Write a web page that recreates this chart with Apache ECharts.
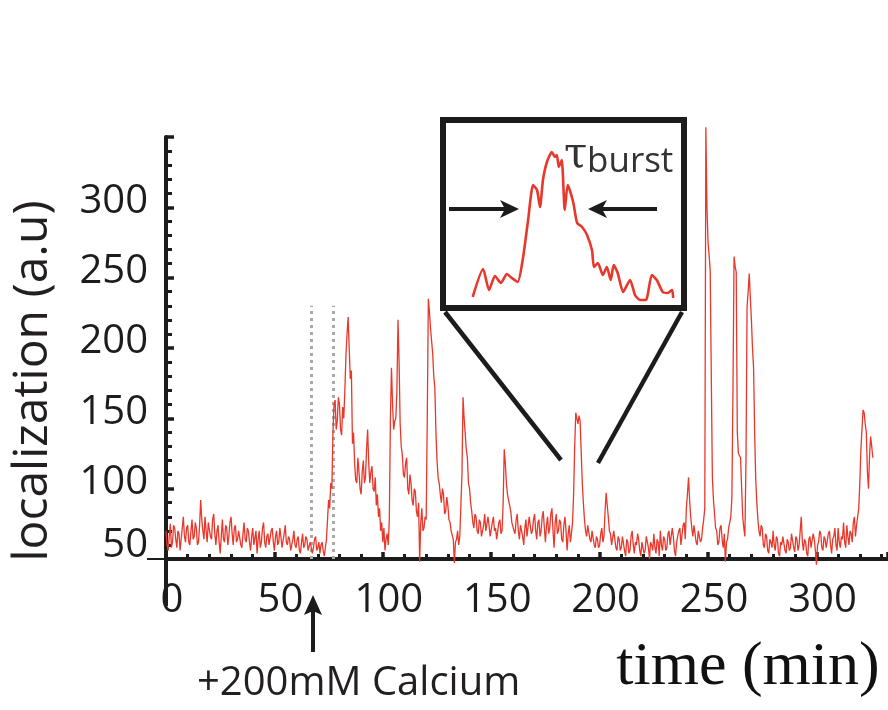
<!DOCTYPE html>
<html>
<head>
<meta charset="utf-8">
<script src="https://cdn.jsdelivr.net/npm/echarts@6/dist/echarts.min.js"></script>
<style>
  html, body { margin: 0; padding: 0; background: #ffffff; }
  #chart { width: 888px; height: 710px; }
</style>
</head>
<body>
<div id="chart"></div>
<script>
// Localization trace, one sample every half minute starting at t = 0 min
const sampleStepMin = 0.5;
const localization = [
  70, 60, 56, 66, 75, 58, 62, 74, 72, 64,
  58, 70, 68, 56, 64, 72, 80, 66, 62, 72,
  74, 62, 60, 70, 78, 64, 66, 76, 72, 60,
  62, 74, 92, 78, 70, 64, 80, 70, 62, 76,
  76, 66, 64, 78, 82, 68, 60, 70, 74, 62,
  54, 66, 78, 64, 62, 74, 72, 60, 66, 76,
  80, 68, 60, 72, 74, 62, 64, 70, 70, 60,
  58, 68, 76, 64, 62, 72, 70, 62, 56, 66,
  72, 60, 60, 70, 54, 64, 70, 58, 62, 72,
  76, 62, 58, 66, 68, 60, 60, 70, 72, 62,
  56, 66, 70, 60, 62, 72, 66, 58, 58, 68,
  74, 62, 60, 66, 64, 56, 56, 64, 70, 60,
  58, 64, 66, 56, 54, 62, 68, 58, 60, 66,
  64, 56, 55, 62, 62, 54, 58, 64, 66, 56,
  58, 62, 54, 60, 62, 56, 52, 58, 64, 78,
  92, 86, 104, 100, 140, 160, 163, 142, 148, 165,
  160, 142, 138, 158, 150, 170, 195, 210, 222, 200,
  178, 184, 132, 140, 118, 106, 104, 122, 112, 100,
  96, 112, 120, 104, 108, 128, 142, 118, 104, 112,
  116, 100, 98, 108, 88, 96, 80, 86, 70, 76,
  62, 72, 56, 64, 68, 60, 78, 150, 186, 160,
  142, 148, 150, 170, 220, 190, 146, 130, 124, 110,
  108, 118, 122, 100, 96, 110, 104, 92, 88, 100,
  98, 84, 80, 90, 48, 76, 86, 70, 72, 80,
  78, 150, 235, 226, 214, 205, 196, 180, 172, 140,
  120, 108, 104, 96, 90, 100, 96, 82, 84, 94,
  88, 78, 76, 70, 70, 64, 47, 62, 64, 70,
  60, 66, 66, 110, 165, 150, 150, 128, 122, 104,
  100, 90, 84, 76, 72, 82, 80, 70, 68, 78,
  76, 66, 66, 74, 82, 70, 70, 80, 74, 66,
  66, 76, 80, 70, 72, 64, 64, 76, 78, 68,
  70, 90, 128, 118, 104, 96, 96, 88, 84, 76,
  76, 70, 68, 78, 82, 70, 64, 74, 74, 66,
  60, 72, 78, 66, 66, 80, 80, 68, 70, 78,
  82, 70, 64, 76, 78, 66, 70, 80, 84, 72,
  62, 74, 80, 68, 72, 82, 86, 70, 58, 76,
  82, 68, 70, 78, 76, 64, 62, 74, 80, 70,
  56, 68, 74, 62, 68, 76, 96, 130, 154, 150,
  146, 152, 148, 126, 104, 90, 78, 70, 66, 74,
  74, 64, 62, 70, 70, 60, 58, 66, 64, 58,
  60, 68, 72, 62, 66, 84, 97, 88, 80, 70,
  68, 60, 60, 70, 70, 58, 56, 66, 64, 56,
  58, 66, 66, 56, 52, 64, 62, 54, 56, 66,
  70, 60, 54, 62, 60, 68, 64, 56, 52, 62,
  62, 54, 56, 66, 66, 58, 50, 62, 60, 56,
  68, 58, 54, 64, 62, 52, 70, 60, 56, 66,
  64, 56, 58, 68, 70, 60, 60, 72, 66, 56,
  52, 62, 62, 70, 72, 60, 60, 74, 76, 64,
  86, 96, 108, 92, 80, 72, 66, 74, 74, 62,
  60, 70, 70, 62, 64, 72, 78, 86, 357, 300,
  275, 266, 255, 180, 108, 92, 82, 72, 70, 60,
  62, 72, 74, 64, 58, 68, 48, 62, 64, 72,
  72, 80, 94, 170, 265, 258, 254, 140, 125, 124,
  122, 100, 80, 72, 66, 120, 229, 240, 253, 236,
  220, 200, 186, 140, 106, 90, 78, 70, 66, 74,
  72, 60, 58, 68, 66, 56, 54, 64, 62, 58,
  70, 60, 56, 66, 64, 54, 52, 62, 60, 66,
  66, 56, 54, 64, 62, 56, 58, 68, 68, 58,
  55, 66, 64, 56, 60, 70, 80, 62, 56, 64,
  62, 54, 52, 64, 66, 58, 58, 68, 64, 56,
  46, 60, 62, 70, 68, 58, 56, 66, 64, 58,
  58, 68, 70, 60, 54, 64, 66, 72, 60, 56,
  72, 62, 58, 66, 64, 76, 62, 58, 74, 66,
  60, 70, 68, 62, 76, 80, 66, 74, 74, 86,
  104, 128, 142, 156, 154, 146, 140, 112, 100, 124,
  137, 130, 122
];

// Axis ticks
const yTickLabels = [50, 100, 150, 200, 250, 300];
const xTickLabels = [0, 50, 100, 150, 200, 250, 300];

// Calcium addition window (min) and top of its dotted guides (a.u.)
const calciumWindow = [67, 77];
const calciumGuideTop = 230;

// Zoomed single burst shown in the inset (arbitrary time units, a.u.)
const burstTime = [
  0.48, 0.69, 0.81, 0.93, 1.05, 1.17, 1.27, 1.39, 1.49, 1.60,
  1.70, 1.78, 1.84, 1.90, 1.98, 2.08, 2.14, 2.18, 2.22, 2.28,
  2.34, 2.40, 2.51, 2.59, 2.69, 2.79, 2.89, 2.93, 3.01, 3.11,
  3.19, 3.27, 3.33, 3.41, 3.52, 3.66, 3.76, 3.86, 3.98, 4.10,
  4.20, 4.32, 4.42, 4.51, 4.53
];
const burstValue = [
  11, 39, 18, 32, 25, 34, 30, 26, 48, 88,
  123, 118, 101, 128, 146, 156, 151, 153, 141, 148,
  98, 123, 106, 85, 81, 73, 58, 41, 45, 33,
  41, 28, 43, 35, 16, 28, 13, 8, 8, 33,
  28, 16, 15, 18, 10
];
const burstTicks = [2, 3, 4];

const INK = '#1e1b1c';
const RED = '#e8382c';
const LABEL_FONT = "'Open Sans', sans-serif";

const chart = echarts.init(document.getElementById('chart'), null, { renderer: 'canvas' });

const tracePoints = localization.map((v, i) => [i * sampleStepMin, v]);
const burstPoints = burstTime.map((t, i) => [t, burstValue[i]]);

const option = {
  backgroundColor: '#ffffff',
  animation: false,
  grid: [
    { left: 166, top: 137, right: 0, bottom: 151, containLabel: false },
    { left: 443, top: 120, width: 241, height: 188, show: true,
      backgroundColor: '#ffffff', borderColor: INK, borderWidth: 6, z: 10 }
  ],
  xAxis: [
    {
      gridIndex: 0, type: 'value', min: 0, max: 333, interval: 50,
      axisLine: { show: true, lineStyle: { color: INK, width: 4 } },
      axisTick: { show: true, inside: true, length: 7, lineStyle: { color: INK, width: 3.5 } },
      minorTick: { show: true, splitNumber: 5, length: 5, lineStyle: { color: INK, width: 3 } },
      splitLine: { show: false },
      axisLabel: {
        show: true, margin: 22,
        customValues: xTickLabels,
        color: INK, fontFamily: LABEL_FONT,
        fontSize: 40, padding: [0, 0, 0, 12]
      }
    },
    {
      gridIndex: 1, type: 'value', min: -0.12, max: 4.75,
      axisLine: { show: false },
      axisTick: { show: true, inside: true, length: 5, customValues: burstTicks,
        lineStyle: { color: INK, width: 3 } },
      axisLabel: { show: false },
      splitLine: { show: false }
    }
  ],
  yAxis: [
    {
      gridIndex: 0, type: 'value', min: 50, max: 350, interval: 50,
      axisLine: { show: true, lineStyle: { color: INK, width: 4 } },
      axisTick: { show: true, inside: true, length: 8, lineStyle: { color: INK, width: 3.5 } },
      minorTick: { show: true, splitNumber: 5, length: 6, lineStyle: { color: INK, width: 3 } },
      splitLine: { show: false },
      axisLabel: {
        show: true, margin: 18,
        customValues: yTickLabels,
        color: INK, fontFamily: LABEL_FONT, fontSize: 40,
        formatter: v => (v === 50 ? '{low|50}' : '{n|' + v + '}'),
        rich: {
          n: { fontFamily: LABEL_FONT, fontSize: 40, color: INK, padding: [0, 0, 12, 0] },
          low: { fontFamily: LABEL_FONT, fontSize: 40, color: INK, padding: [0, 0, 26, 0] }
        }
      }
    },
    {
      gridIndex: 1, type: 'value', min: 0, max: 188,
      axisLine: { show: false }, axisTick: { show: false },
      axisLabel: { show: false }, splitLine: { show: false }
    }
  ],
  series: [
    {
      name: 'localization',
      type: 'line', xAxisIndex: 0, yAxisIndex: 0,
      data: tracePoints,
      showSymbol: false, clip: false, z: 3,
      lineStyle: { color: RED, width: 1.3 },
      markLine: {
        silent: true, symbol: 'none', z: 2,
        label: { show: false },
        lineStyle: { color: '#a9a9a9', width: 3, type: [3, 4] },
        data: calciumWindow.map(t => [
          { coord: [t, 50] }, { coord: [t, calciumGuideTop] }
        ])
      }
    },
    {
      name: 'burst',
      type: 'line', xAxisIndex: 1, yAxisIndex: 1,
      data: burstPoints,
      showSymbol: false, smooth: 0.2, z: 12,
      lineStyle: { color: RED, width: 2.6 }
    }
  ],
  graphic: [
    // y axis continues a little below the time axis, with an outward tick at 50
    { type: 'line', z: 20, shape: { x1: 166, y1: 559, x2: 166, y2: 606 }, style: { stroke: INK, lineWidth: 4 } },
    { type: 'line', z: 20, shape: { x1: 147, y1: 559, x2: 166, y2: 559 }, style: { stroke: INK, lineWidth: 2 } },
    // zoom lines from the inset down to the burst
    { type: 'line', z: 20, shape: { x1: 445, y1: 312, x2: 561, y2: 460 }, style: { stroke: INK, lineWidth: 4.5 } },
    { type: 'line', z: 20, shape: { x1: 682, y1: 312, x2: 598, y2: 463 }, style: { stroke: INK, lineWidth: 4.5 } },
    // burst width arrows
    { type: 'line', z: 20, shape: { x1: 449, y1: 209, x2: 506, y2: 209 }, style: { stroke: INK, lineWidth: 4 } },
    { type: 'polygon', z: 20, shape: { points: [[519, 209], [500, 200], [505, 209], [500, 218]] }, style: { fill: INK } },
    { type: 'line', z: 20, shape: { x1: 657, y1: 209, x2: 601, y2: 209 }, style: { stroke: INK, lineWidth: 4 } },
    { type: 'polygon', z: 20, shape: { points: [[588, 209], [607, 200], [602, 209], [607, 218]] }, style: { fill: INK } },
    // tau_burst label
    { type: 'text', z: 20, style: { x: 564, y: 156, text: 'τ', fill: '#333333',
        font: "42px 'DejaVu Serif', serif", textAlign: 'left', textVerticalAlign: 'middle' } },
    { type: 'text', z: 20, style: { x: 587, y: 162, text: 'burst', fill: '#333333',
        font: "35px 'Open Sans', sans-serif", textAlign: 'left', textVerticalAlign: 'middle' } },
    // calcium addition marker
    { type: 'line', z: 20, shape: { x1: 313, y1: 610, x2: 313, y2: 652 }, style: { stroke: INK, lineWidth: 4 } },
    { type: 'polygon', z: 20, shape: { points: [[313, 595], [304, 615], [313, 611], [322, 615]] }, style: { fill: INK } },
    { type: 'text', z: 20, style: { x: 197, y: 684, text: '+200mM Calcium', fill: '#231f20',
        font: "40px 'Open Sans', sans-serif", textAlign: 'left', textVerticalAlign: 'middle' } },
    // axis titles
    { type: 'text', z: 20, rotation: Math.PI / 2, x: 33, y: 381,
      style: { x: 0, y: 0, text: 'localization (a.u)', fill: '#231f20',
        font: "48px 'Open Sans', sans-serif", textAlign: 'center', textVerticalAlign: 'middle' } },
    { type: 'text', z: 20, style: { x: 748, y: 668, text: 'time (min)', fill: '#111111',
        font: "62px 'Liberation Serif', serif", textAlign: 'center', textVerticalAlign: 'middle' } }
  ]
};

chart.setOption(option);
</script>
</body>
</html>
